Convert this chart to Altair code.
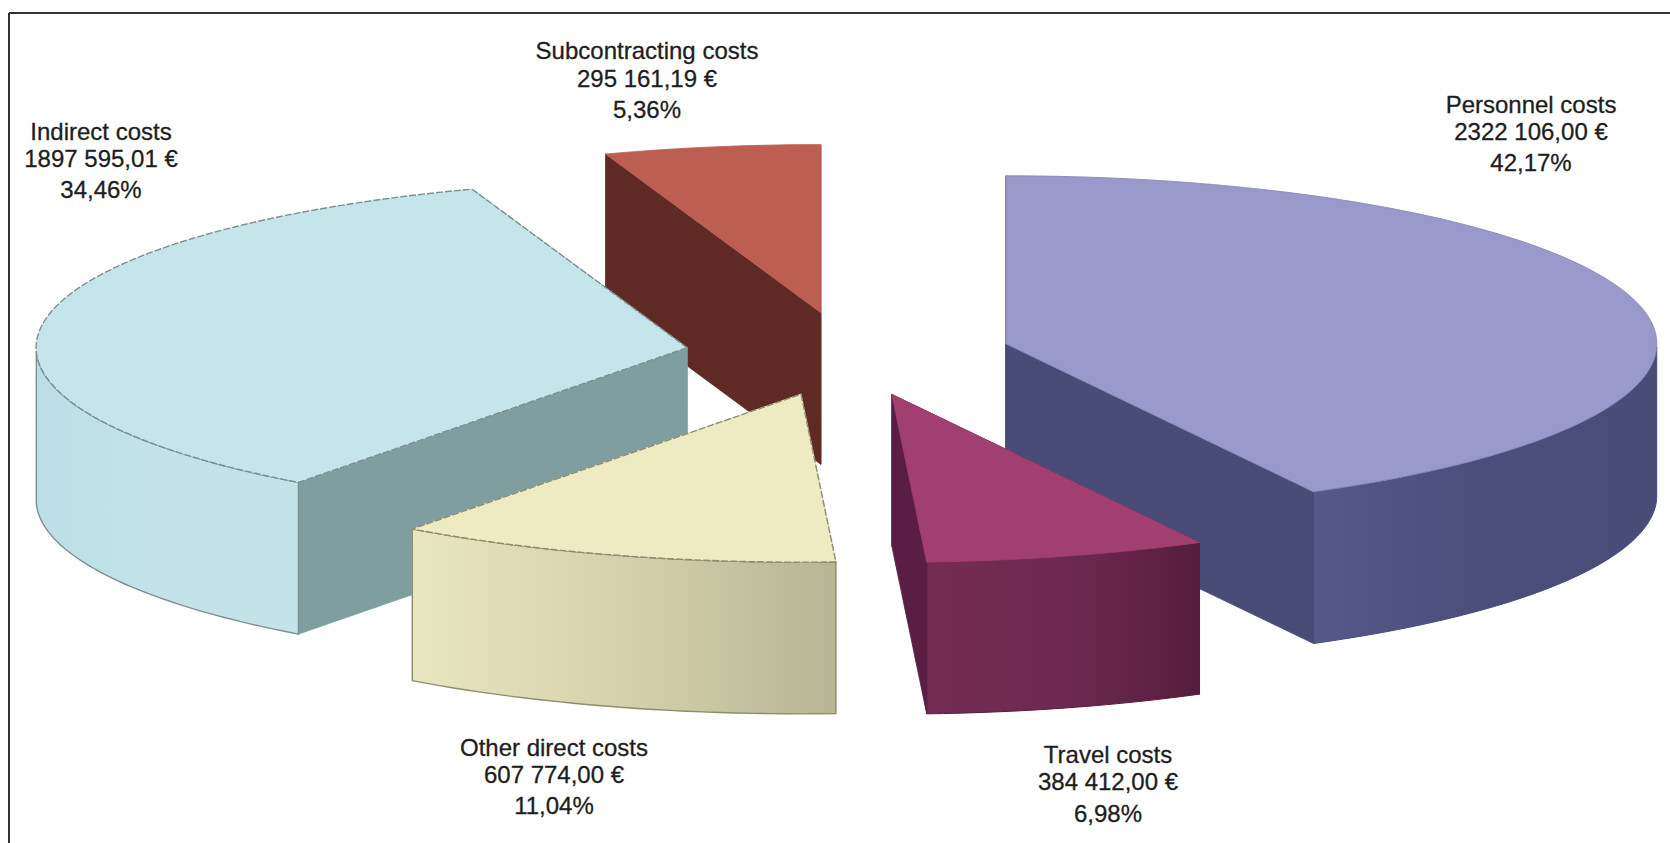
import math
import altair as alt
import pandas as pd

# Budget lines, clockwise from twelve o'clock
names = ["Personnel costs", "Travel costs", "Other direct costs", "Indirect costs", "Subcontracting costs"]
euros = [2322106.00, 384412.00, 607774.00, 1897595.01, 295161.19]

top_colors = ["#9999CC", "#A03F70", "#EEEBC2", "#C4E6EB", "#BC5F52"]
wall_colors = ["#4A4C78", "#5A1E45", "#D8D5AE", "#7F9EA0", "#5F2A24"]
rim_stops = [
    ["#56588A", "#4B4D7A", "#4A4C78"],
    ["#722C52", "#6E2A50", "#561D3C"],
    ["#E9E7BF", "#D4D1AB", "#B8B594"],
    ["#BBDFE4", "#C2E4E9", "#C2E4E9"],
    ["#5F2A24", "#5F2A24", "#5F2A24"],
]
outline_colors = ["#8888BB", "#A03F70", "#8F8D70", "#7D8F92", "#BC5F52"]
outline_dash = [[1, 0], [1, 0], [7, 2], [7, 2], [1, 0]]
outline_width = [1.0, 1.0, 1.4, 1.4, 1.0]

# Label block centres and line baselines on the page
label_x = [1531, 1108, 554, 101, 647]
label_y = [[106, 133, 164], [756, 783, 815], [749, 776, 807], [133, 160, 191], [52, 80, 111]]

# Pie projection: unit radius, flattened vertically, extruded downward
W, H = 1670, 843
CX, CY, RX = 848.0, 354.0, 651.0
TILT = 0.258
DEPTH = 0.233
EXPLODE = 0.25

x_scale = alt.Scale(domain=[-CX / RX, (W - CX) / RX], nice=False, zero=False)
y_scale = alt.Scale(domain=[-(H - CY) / RX, CY / RX], nice=False, zero=False)


def euro_text(v):
    cents = round(v * 100)
    whole, frac = divmod(cents, 100)
    return f"{whole // 1000} {whole % 1000:03d},{frac:02d} €"


def rim_point(angle, ox, oy):
    return ox + math.sin(angle), oy + math.cos(angle) * TILT


def polygon(points, fill, stroke, dash=(1, 0), width=1.0):
    frame = pd.DataFrame(points, columns=["x", "y"]).assign(i=range(len(points)))
    return alt.Chart(frame).mark_line(
        interpolate="linear-closed", fill=fill, stroke=stroke,
        strokeWidth=width, strokeDash=list(dash),
    ).encode(
        x=alt.X("x:Q", scale=x_scale, axis=None),
        y=alt.Y("y:Q", scale=y_scale, axis=None),
        order="i:Q",
    )


def rim_band(points, stops, stroke, width):
    frame = pd.DataFrame(points, columns=["x", "y"]).assign(y0=lambda d: d["y"] - DEPTH)
    gradient = alt.LinearGradient(
        gradient="linear", x1=0, x2=1, y1=0, y2=0,
        stops=[alt.GradientStop(color=c, offset=o) for c, o in zip(stops, [0, 0.5, 1])],
    )
    return alt.Chart(frame).mark_area(color=gradient, stroke=stroke, strokeWidth=width).encode(
        x=alt.X("x:Q", scale=x_scale, axis=None),
        y=alt.Y("y:Q", scale=y_scale, axis=None),
        y2="y0:Q",
    )


total = sum(euros)
shares = [v / total for v in euros]
starts = [sum(shares[:k]) * 2 * math.pi for k in range(len(shares))]
spans = [s * 2 * math.pi for s in shares]

layers = []
geometry = {}
for k in range(len(names)):
    a0, a1 = starts[k], starts[k] + spans[k]
    mid = (a0 + a1) / 2
    ox = EXPLODE * math.sin(mid)
    oy = EXPLODE * math.cos(mid) * TILT
    geometry[k] = (a0, a1, ox, oy)

# Painted back to front so nearer slices cover the ones behind them
for k in [4, 3, 0, 2, 1]:
    a0, a1, ox, oy = geometry[k]
    steps = max(12, int(spans[k] * 40))
    arc = [a0 + (a1 - a0) * t / steps for t in range(steps + 1)]
    outline = [rim_point(a, ox, oy) for a in arc]
    start_pt, end_pt = outline[0], outline[-1]

    # Flat walls along the two radial cuts
    for pt in (start_pt, end_pt):
        layers.append(polygon(
            [(ox, oy), pt, (pt[0], pt[1] - DEPTH), (ox, oy - DEPTH)],
            wall_colors[k], wall_colors[k],
        ))

    # Curved outer wall: only the part facing the viewer
    front = [a for a in arc if math.cos(a) <= 0]
    if len(front) > 1:
        band = [rim_point(a, ox, oy) for a in front]
        band.sort(key=lambda p: p[0])
        layers.append(rim_band(
            band, rim_stops[k],
            outline_colors[k] if k in (2, 3) else rim_stops[k][2],
            outline_width[k],
        ))

    # Top face
    layers.append(polygon(
        [(ox, oy)] + outline, top_colors[k], outline_colors[k], outline_dash[k], outline_width[k],
    ))

# Slice captions
rows = []
for k in range(len(names)):
    pct = f"{shares[k] * 100:.2f}".replace(".", ",") + "%"
    for text, py in zip([names[k], euro_text(euros[k]), pct], label_y[k]):
        rows.append({"text": text, "px": label_x[k], "py": py})
captions = alt.Chart(pd.DataFrame(rows)).mark_text(
    font="Liberation Sans", fontSize=24, color="#1E1E1E", align="center", baseline="middle",
    stroke="#1E1E1E", strokeWidth=0.3,
).encode(
    x=alt.X("px:Q", scale=None),
    y=alt.Y("py:Q", scale=None),
    text="text:N",
)

# Frame line along the top and left edges
frame_left = alt.Chart(pd.DataFrame({"a": [0]})).mark_rule(color="#333333", strokeWidth=2).encode(
    x=alt.value(9), y=alt.value(13), y2=alt.value(H),
)
frame_top = alt.Chart(pd.DataFrame({"a": [0]})).mark_rule(color="#333333", strokeWidth=2).encode(
    y=alt.value(13), x=alt.value(9), x2=alt.value(W),
)

chart = alt.layer(*layers, captions, frame_left, frame_top).properties(
    width=W, height=H, padding=0, background="white",
    autosize=alt.AutoSizeParams(type="none"),
).configure_view(stroke=None)

chart.save("out.html", embed_options={"renderer": "svg", "actions": False})
